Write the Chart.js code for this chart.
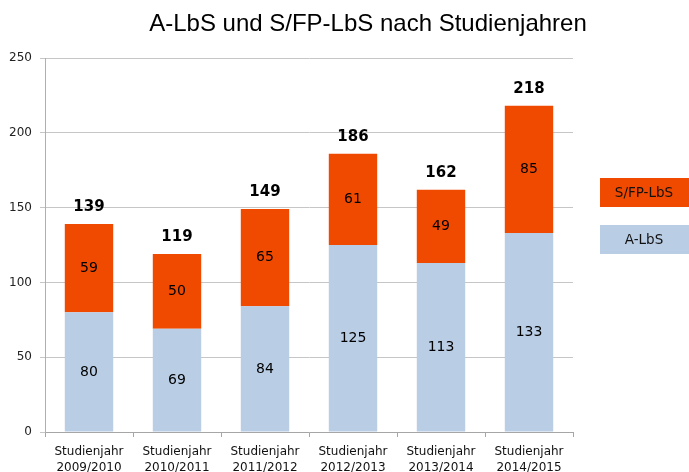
<!DOCTYPE html>
<html>
<head>
<meta charset="utf-8">
<script src="https://cdn.jsdelivr.net/npm/chart.js@4.4.1/dist/chart.umd.min.js"></script>
<style>
html,body{margin:0;padding:0;background:#fff;}
#wrap{width:689px;height:472px;position:relative;}
</style>
</head>
<body>
<div id="wrap"><canvas id="c" width="689" height="472"></canvas></div>
<script>
const categories = [
  ['Studienjahr','2009/2010'],
  ['Studienjahr','2010/2011'],
  ['Studienjahr','2011/2012'],
  ['Studienjahr','2012/2013'],
  ['Studienjahr','2013/2014'],
  ['Studienjahr','2014/2015']
];
const aLbs = [80, 69, 84, 125, 113, 133];
const sfpLbs = [59, 50, 65, 61, 49, 85];
const totals = [139, 119, 149, 186, 162, 218];
const titleText = 'A-LbS und S/FP-LbS nach Studienjahren';
const yTicks = [0, 50, 100, 150, 200, 250];

const COL_BLUE = '#B9CDE5';
const COL_ORANGE = '#EF4A00';

const labelPlugin = {
  id: 'labels',
  afterDatasetsDraw(chart) {
    const ctx = chart.ctx;
    ctx.save();
    ctx.textAlign = 'center';
    ctx.textBaseline = 'middle';
    ctx.fillStyle = '#000';
    ctx.font = '14px "DejaVu Sans"';
    chart.data.datasets.forEach((ds, di) => {
      const meta = chart.getDatasetMeta(di);
      meta.data.forEach((el, i) => {
        const cy = (el.y + el.base) / 2;
        ctx.fillText(String(ds.data[i]), el.x, cy);
      });
    });
    const top = chart.getDatasetMeta(1);
    ctx.font = 'bold 15px "DejaVu Sans"';
    top.data.forEach((el, i) => {
      ctx.fillText(String(totals[i]), el.x, el.y - 17);
    });
    ctx.restore();
  },
  afterDraw(chart) {
    const ctx = chart.ctx;
    ctx.save();
    ctx.fillStyle = '#000';
    ctx.font = '24px "Liberation Sans"';
    ctx.textAlign = 'center';
    ctx.textBaseline = 'middle';
    ctx.fillText(titleText, 368, 24);
    const items = [
      {label: chart.data.datasets[1].label, color: chart.data.datasets[1].backgroundColor, y: 178},
      {label: chart.data.datasets[0].label, color: chart.data.datasets[0].backgroundColor, y: 225}
    ];
    items.forEach(it => {
      ctx.fillStyle = it.color;
      ctx.fillRect(600, it.y, 89, 29);
      ctx.fillStyle = '#111';
      ctx.font = '13.5px "DejaVu Sans"';
      ctx.fillText(it.label, 644, it.y + 15);
    });
    ctx.restore();
  }
};

new Chart(document.getElementById('c'), {
  type: 'bar',
  data: {
    labels: categories,
    datasets: [
      {label: 'A-LbS', data: aLbs, backgroundColor: COL_BLUE, borderWidth: 0},
      {label: 'S/FP-LbS', data: sfpLbs, backgroundColor: COL_ORANGE, borderWidth: 0}
    ]
  },
  options: {
    responsive: false,
    animation: false,
    events: [],
    layout: {padding: {top: 58, right: 116, left: 0, bottom: 0}},
    plugins: {legend: {display: false}, title: {display: false}, tooltip: {enabled: false}},
    datasets: {bar: {categoryPercentage: 1, barPercentage: 0.55}},
    scales: {
      x: {
        stacked: true,
        afterFit(s) { s.height = 40; },
        grid: {offset: true, drawOnChartArea: false, drawTicks: true, tickLength: 5, color: '#a6a6a6'},
        border: {display: true, color: '#a6a6a6'},
        ticks: {font: {family: 'DejaVu Sans', size: 12, lineHeight: 1.33}, color: '#111', padding: 7, maxRotation: 0, autoSkip: false}
      },
      y: {
        stacked: true,
        min: 0, max: 250,
        afterFit(s) { s.width = 45; },
        afterBuildTicks(s) { s.ticks = yTicks.map(v => ({value: v})); },
        grid: {color: '#c6c6c6', tickLength: 5, drawTicks: true},
        border: {display: true, color: '#b0b0b0'},
        ticks: {font: {family: 'DejaVu Sans', size: 12}, color: '#222', padding: 8}
      }
    }
  },
  plugins: [labelPlugin]
});
</script>
</body>
</html>
